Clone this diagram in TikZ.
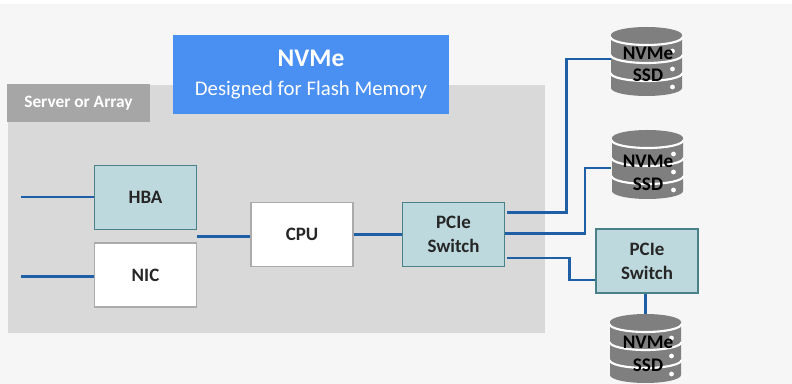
\documentclass[tikz,border=0pt]{standalone}
\usepackage{fontspec}
\setmainfont{Carlito}
\definecolor{bgc}{HTML}{F6F6F6}
\definecolor{panelc}{HTML}{D9D9D9}
\definecolor{tabc}{HTML}{A6A6A6}
\definecolor{blueb}{HTML}{4A8FF2}
\definecolor{tealf}{HTML}{BDD9DE}
\definecolor{teald}{HTML}{4A8088}
\definecolor{wirec}{HTML}{1F5FA6}
\definecolor{greyb}{HTML}{ABABAB}
\definecolor{txt}{HTML}{262626}
\definecolor{diskc}{HTML}{7F7F7F}
\tikzset{
  wire/.style={draw=wirec,line width=1.9pt},
  tealbox/.style={draw=teald,line width=1.2pt,fill=tealf,minimum width=76.5pt,minimum height=48pt,inner sep=0pt,align=center,text=txt,font=\fontsize{14.2}{18}\selectfont\bfseries},
  whitebox/.style={draw=greyb,line width=1.2pt,fill=white,minimum width=76.5pt,minimum height=48pt,inner sep=0pt,align=center,text=txt,font=\fontsize{14.2}{18}\selectfont\bfseries},
  ssdlabel/.style={inner sep=0pt,align=center,text=black,font=\fontsize{14.4}{17}\selectfont\bfseries}
}
% disk icon centred on x=#1, top of the cylinder y=#2, in pixels
\newcommand{\diskicon}[2]{%
  \begin{scope}[shift={(#1,#2)}]
    \fill[diskc] (-35.5,8) -- (-35.5,61) arc[start angle=180,end angle=0,x radius=35.5,y radius=8] -- (35.5,8) arc[start angle=0,end angle=-180,x radius=35.5,y radius=8];
    \draw[white,line width=1.6pt] (-36,10) arc[start angle=180,end angle=0,x radius=36,y radius=8];
    \draw[white,line width=1.6pt] (-36,28) arc[start angle=180,end angle=0,x radius=36,y radius=8];
    \draw[white,line width=1.6pt] (-36,46) arc[start angle=180,end angle=0,x radius=36,y radius=8];
    \fill[white] (26,24) circle (2.4) (26,42) circle (2.4) (26,60) circle (2.4);
  \end{scope}}
\begin{document}
\begin{tikzpicture}[x=0.75pt,y=-0.75pt]
\useasboundingbox (0,0) rectangle (792,384);
\fill[white] (0,0) rectangle (792,384);
\fill[bgc] (0,4) rectangle (792,384);
\fill[panelc] (8,85) rectangle (545,333);
\node[fill=tabc,text=white,minimum width=107pt,minimum height=28.5pt,inner sep=0pt,font=\fontsize{13}{15}\selectfont\bfseries] (tab) at (78.5,103) {Server or Array};
\node[fill=blueb,text=white,minimum width=207pt,minimum height=59pt,inner sep=0pt,align=center,font=\fontsize{15.6}{21.5}\selectfont] (title) at (311,74.5) {{\fontsize{19}{21.5}\selectfont\bfseries NVMe}\\Designed for Flash Memory};
\node[tealbox] (hba) at (145.5,197.5) {HBA};
\node[whitebox] (nic) at (145.5,275) {NIC};
\node[whitebox] (cpu) at (302,234.5) {CPU};
\node[tealbox] (sw1) at (453.5,234.5) {PCIe\\Switch};
\node[tealbox] (sw2) at (647,261) {PCIe\\Switch};
\diskicon{646.5}{27}
\diskicon{647.5}{130}
\diskicon{645.5}{314}
\node[ssdlabel] (ssd1) at (648,64.5) {NVMe\\SSD};
\node[ssdlabel] (ssd2) at (648,173) {NVMe\\SSD};
\node[ssdlabel] (ssd3) at (648,354) {NVMe\\SSD};
\coordinate (in1) at (21,197);
\coordinate (in2) at (21,276.5);
\coordinate (c1) at (197,236.5);
\coordinate (d1) at (611,59);
\coordinate (d2) at (611,168);
\coordinate (d3) at (645.5,314);
\coordinate (s1) at (507,212.5);
\coordinate (s2) at (505,233.5);
\coordinate (s3) at (507,258);
\draw[wire] (in1) -- (in1 -| hba.west);
\draw[wire] (in2) -- (in2 -| nic.west);
\draw[wire] (c1) -- (c1 -| cpu.west);
\draw[wire] (cpu.east) -- (sw1.west);
\draw[wire] (s1) -- (566.5,212.5) -- (566.5,59) -- (d1);
\draw[wire] (s2) -- (585,233.5) -- (585,168) -- (d2);
\draw[wire] (s3) -- (569.5,258) -- (569.5,280) -- (sw2.west |- 0,280);
\draw[wire] (sw2.south -| d3) -- (d3);
\end{tikzpicture}
\end{document}
